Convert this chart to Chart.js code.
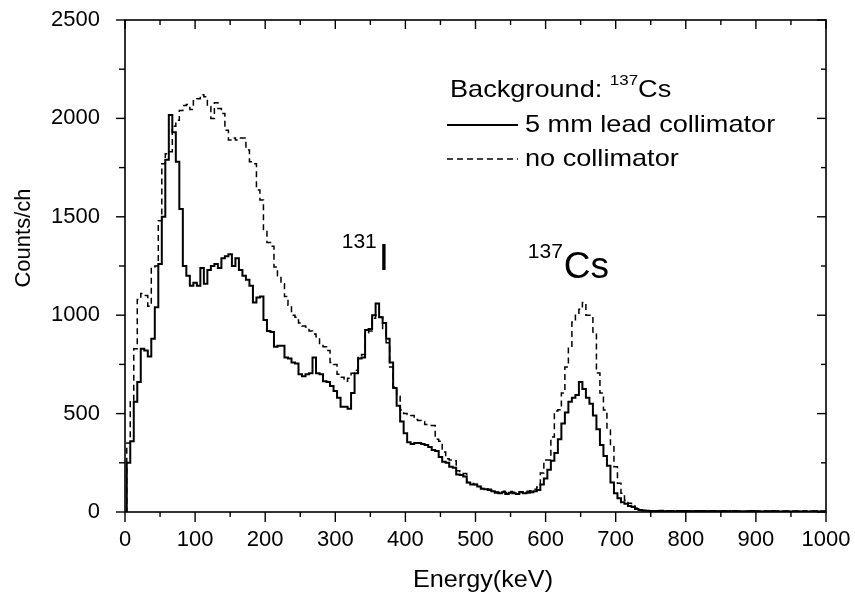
<!DOCTYPE html>
<html>
<head>
<meta charset="utf-8">
<script src="https://cdn.jsdelivr.net/npm/chart.js@4.4.1/dist/chart.umd.min.js"></script>
<style>
html,body{margin:0;padding:0;background:#fff;}
#wrap{width:855px;height:592px;}
canvas{display:block;}
</style>
</head>
<body>
<div id="wrap"><canvas id="c" width="855" height="592"></canvas></div>
<script>
// ---- data (bin energy in keV, 5 keV bins) ----
const energies = Array.from({length: 201}, (_, i) => i * 5);

const leadCollimator = [
  0,250,360,560,660,830,820,790,880,1040,
  1260,1500,1790,2017,1930,1780,1540,1250,1200,1150,
  1165,1150,1240,1160,1230,1250,1260,1240,1290,1300,
  1310,1250,1290,1230,1200,1180,1150,1065,1090,1095,
  975,920,915,840,845,845,785,780,760,755,
  700,690,700,705,785,705,700,665,660,640,
  615,580,535,535,525,605,705,780,785,925,
  930,1000,1060,990,960,880,760,630,540,460,
  400,355,345,350,350,345,340,330,315,310,
  280,255,250,230,225,190,188,180,150,140,
  140,130,118,115,112,105,98,95,100,92,
  98,95,92,100,95,98,100,105,112,140,
  170,215,260,300,370,450,505,560,580,595,
  660,625,580,550,490,420,340,285,235,150,
  95,70,50,42,30,25,15,10,8,6,
  5,4,5,6,4,5,5,4,5,4,
  5,4,4,5,4,5,4,4,5,4,
  4,5,4,4,5,4,4,3,4,5,
  4,4,3,4,4,5,4,3,4,4,
  3,4,4,3,4,3,4,4,3,4,
  3
];

const noCollimator = [
  0,350,560,830,1080,1110,1100,1045,1245,1250,
  1480,1770,1820,1830,1960,1990,2040,2065,2070,2045,
  2090,2100,2120,2110,2060,2000,2080,2050,2025,1940,
  1890,1900,1890,1900,1900,1840,1780,1770,1636,1585,
  1430,1370,1350,1245,1200,1160,1095,1050,1000,990,
  960,945,940,920,905,890,850,840,820,760,
  750,700,685,665,680,705,720,785,800,910,
  920,985,1000,990,925,860,737,635,588,518,
  500,495,490,470,465,460,445,440,440,370,
  360,305,270,264,260,210,200,195,150,145,
  140,130,120,118,115,108,102,100,105,98,
  104,100,98,103,100,105,108,115,127,198,
  264,264,381,513,520,605,737,838,966,1000,
  1030,1065,1000,1000,915,706,605,518,417,332,
  230,146,95,60,45,30,20,12,8,6,
  6,5,6,5,5,6,5,5,4,6,
  5,5,4,5,6,5,4,5,5,4,
  5,5,4,6,5,4,5,4,5,5,
  4,5,4,5,5,4,4,5,4,5,
  4,4,5,4,5,4,4,5,4,4,
  4
];

const xTicks = [0,100,200,300,400,500,600,700,800,900,1000];
const yTicks = [0,500,1000,1500,2000,2500];
const seriesNames = ['5 mm lead collimator', 'no collimator'];
const xTitle = 'Energy(keV)';
const yTitle = 'Counts/ch';

const FONT = '"Liberation Sans", Arial, Helvetica, sans-serif';

function toPoints(vals) { return energies.map((e, i) => ({x: e, y: vals[i]})); }

function zeroPad(scale) {
  scale.paddingLeft = 0; scale.paddingRight = 0; scale.paddingTop = 0; scale.paddingBottom = 0;
}

function sText(ctx, text, x, y, sx) {
  ctx.save(); ctx.translate(x, y); ctx.scale(sx, 1); ctx.fillText(text, 0, 0); ctx.restore();
  return ctx.measureText(text).width * sx;
}

const framePlugin = {
  id: 'frame',
  afterDraw(chart) {
    const {ctx, chartArea: a, scales: {x, y}} = chart;
    ctx.save();
    ctx.strokeStyle = '#000';
    ctx.lineWidth = 1.6;
    ctx.strokeRect(a.left, a.top, a.right - a.left, a.bottom - a.top);
    ctx.lineWidth = 1.4;
    const ln = (x1, y1, x2, y2) => { ctx.beginPath(); ctx.moveTo(x1, y1); ctx.lineTo(x2, y2); ctx.stroke(); };
    for (let i = 0; i < xTicks.length; i++) {
      const px = x.getPixelForValue(xTicks[i]);
      ln(px, a.bottom, px, a.bottom + 10);
      ln(px, a.top, px, a.top + 9);
      if (i < xTicks.length - 1) {
        const pm = x.getPixelForValue((xTicks[i] + xTicks[i + 1]) / 2);
        ln(pm, a.bottom, pm, a.bottom + 5);
        ln(pm, a.top, pm, a.top + 5);
      }
    }
    for (let i = 0; i < yTicks.length; i++) {
      const py = y.getPixelForValue(yTicks[i]);
      ln(a.left - 9, py, a.left, py);
      ln(a.right - 9, py, a.right, py);
      if (i < yTicks.length - 1) {
        const pm = y.getPixelForValue((yTicks[i] + yTicks[i + 1]) / 2);
        ln(a.left - 6, pm, a.left, pm);
        ln(a.right - 5, pm, a.right, pm);
      }
    }

    ctx.fillStyle = '#000';
    ctx.textBaseline = 'alphabetic';

    // axis titles
    ctx.font = '24px ' + FONT;
    ctx.textAlign = 'center';
    ctx.save();
    ctx.translate(483, 587); ctx.scale(1.05, 1); ctx.fillText(xTitle, 0, 0);
    ctx.restore();
    ctx.font = '22px ' + FONT;
    ctx.save();
    ctx.translate(30, 238); ctx.rotate(-Math.PI / 2); ctx.fillText(yTitle, 0, 0);
    ctx.restore();

    // annotations
    let bx = x.getPixelForValue(362), by = y.getPixelForValue(1230);
    ctx.font = '37px ' + FONT; ctx.textAlign = 'left';
    ctx.fillText('I', bx, by);
    ctx.font = '21px ' + FONT; ctx.textAlign = 'right';
    ctx.fillText('131', bx - 2, by - 22);
    bx = x.getPixelForValue(626); by = y.getPixelForValue(1189);
    ctx.font = '37px ' + FONT; ctx.textAlign = 'left';
    ctx.fillText('Cs', bx, by);
    ctx.font = '21px ' + FONT; ctx.textAlign = 'right';
    ctx.fillText('137', bx - 1, by - 20);

    // legend
    ctx.textAlign = 'left';
    const sx = 1.13;
    const lx = 450;
    ctx.font = '24px ' + FONT;
    let w = sText(ctx, 'Background: ', lx, 97, sx);
    ctx.font = '15px ' + FONT;
    let w2 = sText(ctx, '137', lx + w, 85, sx);
    ctx.font = '24px ' + FONT;
    sText(ctx, 'Cs', lx + w + w2, 97, sx);

    sText(ctx, seriesNames[0], 525, 132, sx);
    sText(ctx, seriesNames[1], 525, 166, sx);
    ctx.lineWidth = 2;
    ln(447, 125, 518, 125);
    ctx.lineWidth = 1.4;
    ctx.setLineDash([6, 4]);
    ln(447, 159, 518, 159);
    ctx.setLineDash([]);
    ctx.restore();
  }
};

new Chart(document.getElementById('c'), {
  type: 'line',
  data: {
    datasets: [
      {
        label: seriesNames[1],
        data: toPoints(noCollimator),
        borderColor: '#000',
        borderWidth: 1.5,
        borderDash: [6, 4],
        stepped: 'middle',
        pointRadius: 0,
        fill: false
      },
      {
        label: seriesNames[0],
        data: toPoints(leadCollimator),
        borderColor: '#000',
        borderWidth: 2,
        stepped: 'middle',
        pointRadius: 0,
        fill: false
      }
    ]
  },
  options: {
    responsive: false,
    animation: false,
    devicePixelRatio: 1,
    layout: {padding: {top: 20, right: 29, left: 0, bottom: 0}},
    plugins: {legend: {display: false}, tooltip: {enabled: false}},
    scales: {
      x: {
        type: 'linear', min: 0, max: 1000,
        afterBuildTicks(s) { s.ticks = xTicks.map(v => ({value: v})); },
        afterFit(s) { s.height = 80; zeroPad(s); },
        grid: {display: false},
        border: {display: false},
        ticks: {color: '#000', font: {family: FONT, size: 22}, padding: 7, maxRotation: 0, autoSkip: false,
                callback: v => String(v)}
      },
      y: {
        type: 'linear', min: 0, max: 2500,
        afterBuildTicks(s) { s.ticks = yTicks.map(v => ({value: v})); },
        afterFit(s) { s.width = 125; zeroPad(s); },
        grid: {display: false},
        border: {display: false},
        ticks: {color: '#000', font: {family: FONT, size: 22}, padding: 17, callback: v => String(v)}
      }
    }
  },
  plugins: [framePlugin]
});
</script>
</body>
</html>
